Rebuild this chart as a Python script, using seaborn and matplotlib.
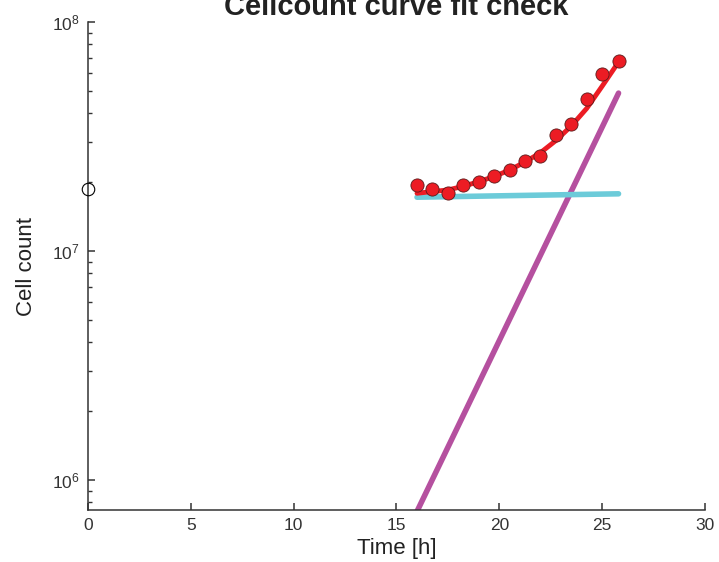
import numpy as np
import pandas as pd
import matplotlib
matplotlib.use("Agg")
import matplotlib.pyplot as plt
import seaborn as sns

# measured cell counts
time_h = [16.0, 16.75, 17.5, 18.25, 19.0, 19.75, 20.5, 21.25, 22.0, 22.75, 23.5, 24.25, 25.0, 25.8]
cells = [1.94e7, 1.87e7, 1.80e7, 1.95e7, 2.00e7, 2.13e7, 2.27e7, 2.47e7, 2.61e7,
         3.20e7, 3.60e7, 4.64e7, 5.93e7, 6.74e7]

# fitted curve
fit_time = [16.0, 16.75, 17.5, 18.25, 19.0, 19.75, 20.5, 21.25, 22.0, 22.75, 23.5, 24.25, 25.0, 25.8]
fit_cells = [1.79e7, 1.82e7, 1.85e7, 1.92e7, 2.01e7, 2.12e7, 2.26e7, 2.45e7, 2.69e7,
             3.04e7, 3.52e7, 4.20e7, 5.25e7, 6.70e7]

# fit components
const_time = [16.0, 25.8]
const_cells = [1.72e7, 1.78e7]
exp_time = [16.0, 25.8]
exp_cells = [7.3e5, 4.9e7]

# starting point at t=0
start_time = [0.0]
start_cells = [1.87e7]

sns.set_theme(style="ticks")
plt.rcParams["font.family"] = ["Liberation Sans", "DejaVu Sans"]

fig = plt.figure(figsize=(7.19, 5.62), dpi=100)
ax = fig.add_axes([0.1224, 0.0925, 0.858, 0.868])

sns.lineplot(x=exp_time, y=exp_cells, color="#b5509f", linewidth=4, ax=ax)
sns.lineplot(x=const_time, y=const_cells, color="#6ccbd9", linewidth=4, ax=ax)
sns.lineplot(x=fit_time, y=fit_cells, color="#ec1c24", linewidth=3.5, ax=ax)
sns.scatterplot(x=time_h, y=cells, color="#ec1c24", edgecolor="#5a1a1a",
                linewidth=0.6, s=90, zorder=5, ax=ax)
ax.plot(start_time, start_cells, "o", mfc="none", mec="black", mew=0.8, ms=9, clip_on=False, zorder=6)

ax.set_yscale("log")
ax.set_xlim(0, 30)
ax.set_ylim(7.4e5, 1e8)
ax.set_xticks([0, 5, 10, 15, 20, 25, 30])

for side in ["top", "right"]:
    ax.spines[side].set_visible(False)
for side in ["left", "bottom"]:
    ax.spines[side].set_color("#333333")
    ax.spines[side].set_linewidth(1.1)
ax.tick_params(which="major", direction="in", length=5, width=1.1, color="#333333",
               labelsize=12.5, labelcolor="#333333", pad=6)
ax.tick_params(which="minor", direction="in", length=3, width=1.0, color="#333333")
ax.tick_params(axis="x", which="minor", bottom=False)

ax.set_xlabel("Time [h]", fontsize=16, color="#222222", labelpad=3)
ax.set_ylabel("Cell count", fontsize=16, color="#222222", labelpad=11)
ax.set_title("Cellcount curve fit check", fontsize=21, fontweight="bold", color="#222222", pad=5)

fig.savefig("out.png", dpi=100)
